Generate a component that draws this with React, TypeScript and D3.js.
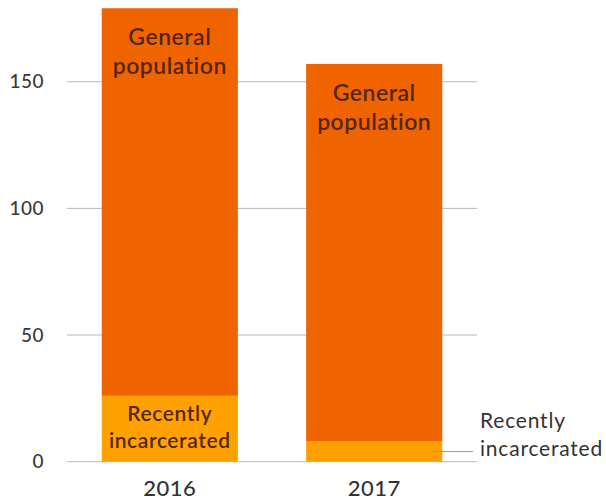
import React from "react";
import * as d3 from "d3";

const years = ["2016", "2017"];
const recentlyIncarcerated = [26, 8];
const generalPopulation = [153, 149];
const yTicks = [0, 50, 100, 150];

const W = 606;
const H = 504;

export default function App() {
  const x = d3.scaleBand<string>().domain(years).range([67, 477]).paddingInner(0.334).paddingOuter(0.17);
  const y = d3.scaleLinear().domain([0, 150]).range([461.7, 81.7]);
  const bw = x.bandwidth();
  const font = "Lato, 'Open Sans', sans-serif";
  const orange = "#F06400";
  const amber = "#FFA100";
  const labelColor = "#56260a";

  return (
    <svg width={W} height={H} style={{ position: "absolute", left: 0, top: 0, background: "#fff" }}>
      {yTicks.map((t) => (
        <g key={t}>
          <line x1={67} x2={477} y1={y(t)} y2={y(t)} stroke="#b8b8b8" strokeWidth={1} />
          <text x={44} y={y(t)} dy="0.35em" textAnchor="end" fontFamily={font} fontSize={19} fontWeight={500} fill="#3a3a3a" letterSpacing="0.5">
            {t}
          </text>
        </g>
      ))}
      {years.map((yr, i) => {
        const x0 = x(yr)!;
        const ri = recentlyIncarcerated[i];
        const gp = generalPopulation[i];
        return (
          <g key={yr}>
            <rect x={x0} width={bw} y={y(ri)} height={y(0) - y(ri)} fill={amber} />
            <rect x={x0} width={bw} y={y(ri + gp)} height={y(ri) - y(ri + gp)} fill={orange} />
            <text x={x0 + bw / 2} y={y(ri + gp) + 29} textAnchor="middle" dy="0.35em" fontFamily={font} fontSize={23} fontWeight={600} fill={labelColor} letterSpacing="0.5">
              General
            </text>
            <text x={x0 + bw / 2} y={y(ri + gp) + 58} textAnchor="middle" dy="0.35em" fontFamily={font} fontSize={23} fontWeight={600} fill={labelColor} letterSpacing="0.5">
              population
            </text>
            <text x={x0 + bw / 2} y={488} textAnchor="middle" dy="0.35em" fontFamily={font} fontSize={22} fontWeight={500} fill="#333" letterSpacing="0.5">
              {yr}
            </text>
          </g>
        );
      })}
      {(() => {
        const x0 = x(years[0])!;
        return (
          <g>
            <text x={x0 + bw / 2} y={414} textAnchor="middle" dy="0.35em" fontFamily={font} fontSize={21} fontWeight={600} fill={labelColor} letterSpacing="0.6">
              Recently
            </text>
            <text x={x0 + bw / 2} y={441} textAnchor="middle" dy="0.35em" fontFamily={font} fontSize={21} fontWeight={600} fill={labelColor} letterSpacing="0.6">
              incarcerated
            </text>
          </g>
        );
      })()}
      {(() => {
        const x1 = x(years[1])!;
        const ly = y(recentlyIncarcerated[1] / 2) + 0;
        return (
          <g>
            <line x1={x1 + bw - 10} x2={473} y1={ly} y2={ly} stroke="#999" strokeWidth={1} />
            <text x={480} y={421} dy="0.35em" fontFamily={font} fontSize={21} fill="#333" letterSpacing="0.8">
              Recently
            </text>
            <text x={480} y={449} dy="0.35em" fontFamily={font} fontSize={21} fill="#333" letterSpacing="0.8">
              incarcerated
            </text>
          </g>
        );
      })()}
    </svg>
  );
}
